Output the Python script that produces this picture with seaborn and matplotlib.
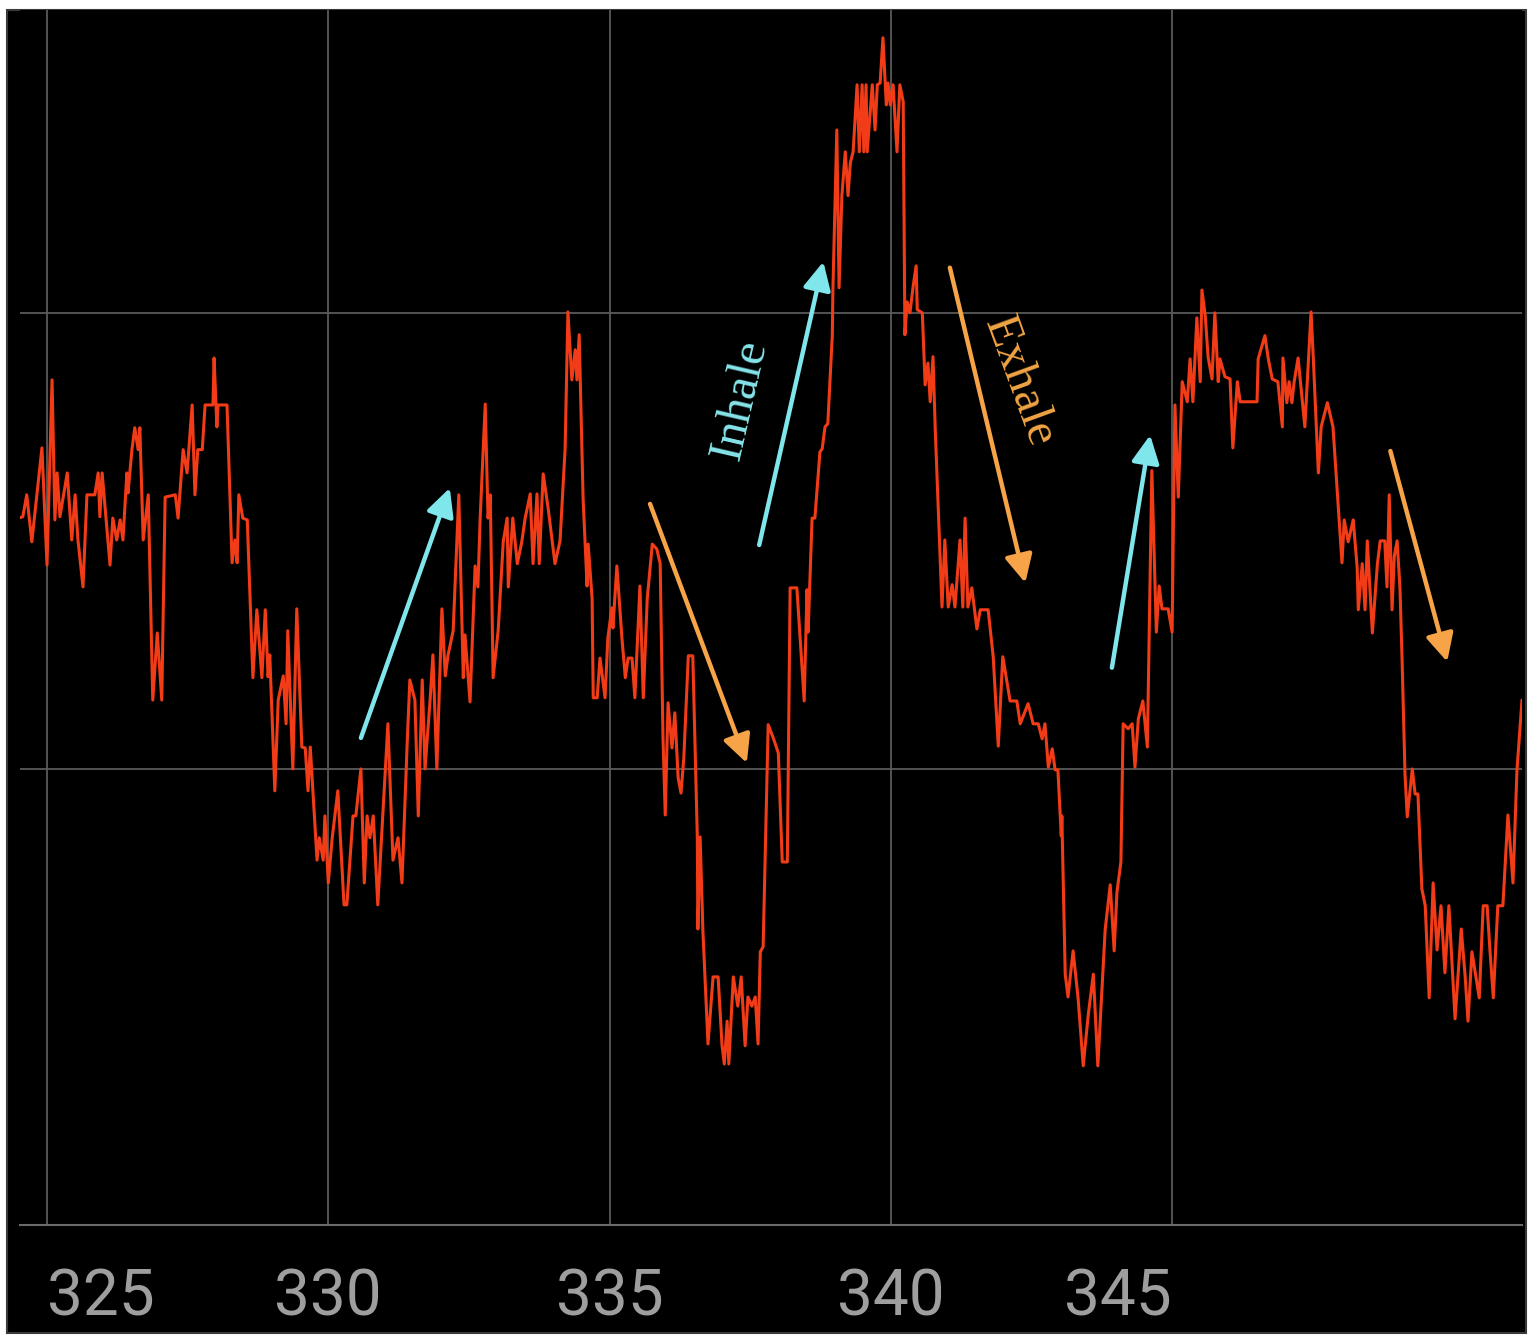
import pandas as pd
import seaborn as sns
import matplotlib.pyplot as plt
from matplotlib.patches import Rectangle

# Breathing signal (time in s, amplitude in arbitrary units)
time_s = [
    324.50, 324.57, 324.64, 324.73, 324.91, 325.00, 325.09, 325.14, 325.18, 325.23,
    325.36, 325.44, 325.50, 325.55, 325.64, 325.71, 325.85, 325.91, 325.94, 325.98,
    326.12, 326.17, 326.24, 326.30, 326.35, 326.42, 326.44, 326.51, 326.56, 326.62,
    326.65, 326.71, 326.80, 326.88, 326.96, 327.04, 327.10, 327.28, 327.33, 327.42,
    327.49, 327.58, 327.63, 327.68, 327.76, 327.81, 327.95, 327.97, 328.02, 328.04,
    328.20, 328.29, 328.34, 328.38, 328.41, 328.48, 328.56, 328.66, 328.73, 328.82,
    328.88, 328.93, 328.96,
    329.05, 329.11, 329.20, 329.25, 329.28, 329.37, 329.44, 329.53, 329.59, 329.64,
    329.68, 329.80, 329.84, 329.91, 329.94, 330.00, 330.07, 330.17, 330.28, 330.33,
    330.44, 330.49, 330.58, 330.64, 330.69, 330.74, 330.80, 330.88, 331.06, 331.15,
    331.24, 331.31, 331.40, 331.45, 331.54, 331.60, 331.67, 331.72, 331.81, 331.86,
    331.93, 332.02, 332.08, 332.13, 332.22, 332.32, 332.40, 332.43, 332.52, 332.61,
    332.66, 332.70, 332.79, 332.84, 332.88, 332.93, 333.02, 333.11, 333.18, 333.20,
    333.28, 333.36, 333.44, 333.50,
    333.59, 333.64, 333.71, 333.75, 333.82, 333.91, 334.03, 334.12, 334.21, 334.26,
    334.33, 334.39, 334.42, 334.46, 334.53, 334.60, 334.62, 334.69, 334.71, 334.78,
    334.83, 334.92, 334.97, 335.04, 335.06, 335.13, 335.22, 335.28, 335.33, 335.40,
    335.45, 335.54, 335.60, 335.67, 335.76, 335.84, 335.90, 335.95, 335.99, 336.04,
    336.11, 336.16, 336.22, 336.27, 336.32, 336.40, 336.48, 336.56, 336.57, 336.61,
    336.66, 336.75, 336.84, 336.93, 337.00, 337.04, 337.09, 337.12, 337.20, 337.28,
    337.34, 337.41, 337.46, 337.53, 337.59, 337.64, 337.68, 337.73, 337.82, 337.91,
    338.00, 338.07,
    338.16, 338.21, 338.33, 338.46, 338.51, 338.53, 338.60, 338.65, 338.74, 338.78,
    338.83, 338.88, 338.96, 338.97, 339.04, 339.08, 339.13, 339.19, 339.24, 339.28,
    339.33, 339.40, 339.44, 339.49, 339.52, 339.56, 339.58, 339.67, 339.72, 339.76,
    339.81, 339.86, 339.92, 339.95, 339.99, 340.04, 340.11, 340.16, 340.22, 340.25,
    340.29, 340.34, 340.40, 340.45, 340.47, 340.56, 340.61, 340.66, 340.70, 340.75,
    340.79, 340.91, 340.96, 341.02, 341.09, 341.14, 341.23, 341.28, 341.32, 341.37,
    341.44, 341.53, 341.59, 341.73, 341.82, 341.91, 341.99, 342.12, 342.24, 342.30,
    342.44, 342.53, 342.62,
    342.69, 342.74, 342.80, 342.87, 342.92, 342.97, 343.03, 343.04, 343.10, 343.15,
    343.24, 343.33, 343.42, 343.51, 343.60, 343.68, 343.81, 343.90, 343.97, 344.02,
    344.09, 344.13, 344.22, 344.29, 344.34, 344.40, 344.48, 344.56, 344.64, 344.72,
    344.77, 344.82, 344.93, 345.00, 345.05, 345.11, 345.18, 345.27, 345.32, 345.37,
    345.44, 345.50, 345.53, 345.59, 345.64, 345.71, 345.76, 345.82, 345.85, 345.94,
    346.03, 346.08, 346.16, 346.21, 346.51, 346.53, 346.65, 346.71, 346.78, 346.88,
    346.96, 346.97, 347.04, 347.08, 347.13, 347.17, 347.24, 347.36, 347.47, 347.51,
    347.60, 347.65, 347.76, 347.86, 348.02, 348.06, 348.13, 348.22,
    348.29, 348.31, 348.38, 348.43, 348.47,
    348.56, 348.65, 348.70, 348.78, 348.82, 348.86, 348.91, 348.95, 349.00, 349.05,
    349.09, 349.14, 349.18, 349.27, 349.32, 349.37, 349.44, 349.50, 349.57, 349.64,
    349.71, 349.78, 349.85, 349.92, 350.03, 350.14, 350.21, 350.26, 350.33, 350.39,
    350.46, 350.53, 350.60, 350.65, 350.71, 350.79, 350.88, 350.97, 351.06, 351.13,
    351.22,
]
signal = [
    155.0, 155.3, 160.1, 149.8, 170.4, 144.7, 185.3, 154.6, 164.9, 155.3,
    164.9, 150.2, 160.1, 150.2, 139.9, 160.1, 160.1, 164.9, 155.3, 164.9,
    144.7, 155.0, 150.2, 154.6, 150.2, 164.9, 160.5, 170.0, 174.8, 170.0,
    174.8, 150.2, 160.1, 115.1, 129.8, 115.1, 159.6, 160.1, 155.0, 170.0,
    164.9, 179.8, 160.1, 170.0, 170.0, 179.8, 179.8, 190.1, 175.0, 179.8,
    179.8, 145.2, 150.2, 145.2, 160.1, 155.0, 154.6, 120.0, 134.9, 120.0,
    134.9, 120.2, 125.0,
    95.2, 115.1, 120.4, 109.9, 130.3, 100.0, 135.1, 104.8, 104.6, 95.2,
    104.8, 80.0, 84.9, 80.0, 89.7, 75.0, 84.9, 95.2, 70.2, 70.2,
    89.7, 89.7, 100.0, 75.0, 89.7, 84.9, 89.7, 70.2, 109.9, 80.0,
    84.9, 75.0, 104.8, 119.5, 115.1, 89.7, 119.5, 100.0, 115.1, 125.0,
    100.0, 135.1, 120.4, 125.0, 130.3, 160.1, 120.0, 129.4, 114.7, 144.5,
    139.9, 155.0, 180.0, 155.0, 160.1, 120.0, 130.3, 149.8, 155.0, 139.9,
    155.0, 145.0, 149.8, 155.0,
    160.3, 145.0, 160.3, 145.0, 164.7, 157.0, 145.0, 150.0, 170.2, 200.2,
    185.3, 191.9, 185.3, 195.2, 159.2, 140.1, 149.3, 137.3, 115.6, 115.6,
    124.3, 115.6, 128.7, 135.3, 130.9, 144.5, 128.7, 120.0, 124.3, 124.3,
    115.6, 140.1, 115.6, 137.3, 149.3, 148.2, 145.0, 106.8, 89.9, 114.5,
    104.6, 112.3, 98.0, 94.7, 102.4, 124.8, 124.8, 85.1, 64.9, 85.1,
    64.3, 39.7, 54.4, 54.4, 39.3, 35.3, 44.7, 35.3, 54.4, 48.0,
    54.4, 39.3, 50.0, 48.0, 50.0, 39.7, 59.9, 61.0, 109.7, 106.8,
    103.5, 79.6,
    79.6, 139.7, 139.7, 114.9, 139.3, 130.0, 155.0, 155.0, 169.5, 170.2,
    175.0, 175.7, 195.2, 204.8, 240.1, 205.5, 225.7, 235.3, 225.7, 232.9,
    235.3, 250.0, 235.3, 250.0, 235.3, 250.0, 235.3, 250.0, 240.1, 250.0,
    250.4, 260.3, 245.6, 250.4, 245.6, 250.0, 235.3, 250.0, 246.3, 195.2,
    202.4, 200.0, 206.1, 210.3, 200.7, 200.0, 184.2, 189.0, 180.5, 190.4,
    174.3, 135.5, 150.2, 135.5, 140.4, 135.5, 150.2, 135.5, 155.0, 135.5,
    139.7, 130.7, 134.9, 134.9, 124.6, 105.0, 124.6, 114.9, 114.9, 109.9,
    114.3, 109.9, 109.9,
    106.6, 109.9, 100.4, 104.4, 99.8, 99.8, 85.3, 89.7, 55.0, 50.0,
    60.1, 49.6, 34.9, 46.1, 55.0, 34.9, 64.7, 74.6, 60.1, 73.0,
    79.6, 109.9, 108.8, 109.9, 100.4, 111.0, 114.9, 104.8, 165.4, 130.0,
    140.1, 135.1, 135.1, 130.0, 179.8, 159.6, 184.9, 180.5, 189.9, 180.5,
    198.9, 184.9, 205.0, 199.3, 190.3, 185.5, 200.0, 184.9, 189.9, 186.0,
    185.5, 170.4, 184.9, 180.5, 180.5, 189.9, 195.0, 189.9, 185.5, 184.9,
    175.0, 190.1, 180.3, 184.9, 180.3, 184.9, 190.1, 175.0, 200.2, 190.1,
    164.9, 175.0, 180.3, 175.0, 145.2, 154.6, 149.8, 154.6,
    144.1, 134.9, 145.0, 134.9, 150.0,
    129.8, 145.0, 150.0, 150.0, 139.9, 160.1, 134.9, 146.7, 150.0, 139.9,
    123.2, 98.9, 89.5, 100.0, 94.5, 94.5, 73.7, 70.0, 49.8, 75.0,
    60.3, 70.0, 55.3, 70.0, 45.2, 64.9, 54.4, 44.7, 59.9, 55.3,
    49.8, 70.0, 70.0, 60.3, 49.8, 70.0, 70.0, 89.9, 75.0, 99.6,
    115.1,
]

xticks = [325, 330, 335, 340, 345]

# (tail, head) of the annotation arrows
inhale_arrows = [((330.58, 106.8), (332.16, 161.6)),
                 ((337.66, 149.1), (338.80, 211.2)),
                 ((343.93, 122.2), (344.61, 173.2))]
exhale_arrows = [((335.72, 158.1), (337.44, 101.3)),
                 ((341.05, 209.9), (342.39, 140.8)),
                 ((348.88, 169.7), (349.89, 123.5))]

df = pd.DataFrame({'time': time_s, 'signal': signal})

sns.set_style("dark")
plt.rcParams['font.family'] = ['Roboto', 'DejaVu Sans']

fig = plt.figure(figsize=(15.33, 13.44), dpi=100)
fig.patch.set_facecolor('white')
fig.add_artist(Rectangle((7 / 1533, 11 / 1344), 1519 / 1533, 1323 / 1344,
                         transform=fig.transFigure, facecolor='black',
                         edgecolor='#3a3a3a', lw=1.5, zorder=0))

ax = fig.add_axes([20 / 1533, 119 / 1344, 1502 / 1533, 1215 / 1344])
ax.set_facecolor('black')

sns.lineplot(data=df, x='time', y='signal', ax=ax, color='#f23c17',
             lw=2.2, sort=False, estimator=None, zorder=3)

ax.set_xlim(324.52, 351.22)
ax.set_ylim(0, 266.4)
ax.set_xticks(xticks)
ax.set_yticks([100, 200])
ax.grid(True, color='#5a5a5a', lw=1.3)
ax.tick_params(axis='x', length=0, pad=30, labelsize=46, labelcolor='#9e9e9e')
ax.tick_params(axis='y', length=0, labelleft=False)
for side in ['top', 'right', 'left']:
    ax.spines[side].set_visible(False)
ax.spines['bottom'].set_color('#6a6a6a')
ax.spines['bottom'].set_linewidth(1.5)
ax.set_xlabel('')
ax.set_ylabel('')

# first label sits right of its grid line, last one left of it
labels = ax.get_xticklabels()
labels[0].set_ha('left')
labels[-1].set_ha('right')

for (tail, head) in inhale_arrows:
    ax.annotate('', xy=head, xytext=tail,
                arrowprops=dict(arrowstyle='-|>', color='#7fe6ec', lw=3.2,
                                mutation_scale=42, shrinkA=0, shrinkB=0),
                zorder=4)
for (tail, head) in exhale_arrows:
    ax.annotate('', xy=head, xytext=tail,
                arrowprops=dict(arrowstyle='-|>', color='#f7a448', lw=3.2,
                                mutation_scale=42, shrinkA=0, shrinkB=0),
                zorder=4)

ax.text(337.32, 180.9, 'Inhale', color='#86e4ea', fontsize=35,
        family=['Liberation Serif', 'DejaVu Serif'], rotation=77,
        ha='center', va='center', rotation_mode='anchor')
ax.text(342.28, 184.9, 'Exhale', color='#f0a444', fontsize=35,
        family=['Liberation Serif', 'DejaVu Serif'], rotation=-70,
        ha='center', va='center', rotation_mode='anchor')

plt.savefig('out.png', dpi=100, facecolor=fig.get_facecolor())
